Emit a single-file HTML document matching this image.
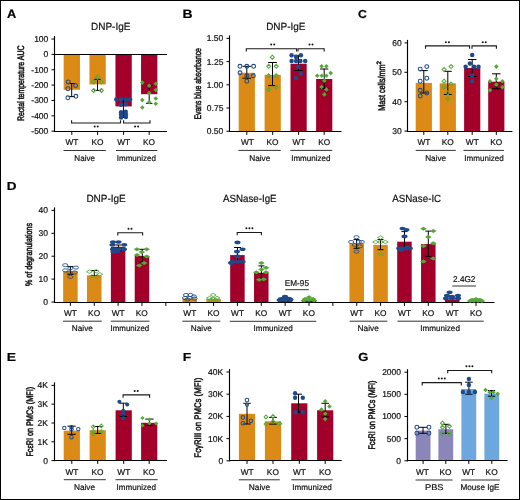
<!DOCTYPE html>
<html><head><meta charset="utf-8"><style>
html,body{margin:0;padding:0;background:#fff;width:520px;height:500px;overflow:hidden;}
svg{display:block;font-family:"Liberation Sans", sans-serif;text-rendering:geometricPrecision;will-change:transform;}
text{stroke:#111;stroke-width:0.2px;}
text.r{stroke-width:0.5px;}
text.b{stroke:none;}
</style></head><body>
<svg width="520" height="500" viewBox="0 0 520 500" fill="#111">
<rect x="0" y="0" width="520" height="500" fill="#fff"/>
<text x="7.08" y="17.80" font-size="12.21" textLength="9.26" lengthAdjust="spacingAndGlyphs" font-weight="bold" fill="#000">A</text>
<text x="90.98" y="29.90" font-size="10.4" textLength="39.45" lengthAdjust="spacingAndGlyphs">DNP-IgE</text>
<line x1="54.50" y1="36.05" x2="54.50" y2="131.75" stroke="#000" stroke-width="1.15"/>
<line x1="51.50" y1="39.05" x2="54.50" y2="39.05" stroke="#000" stroke-width="1.0"/>
<text x="34.15" y="41.96" font-size="8.5">100</text>
<line x1="51.50" y1="54.40" x2="54.50" y2="54.40" stroke="#000" stroke-width="1.0"/>
<text x="43.61" y="57.31" font-size="8.5">0</text>
<line x1="51.50" y1="69.75" x2="54.50" y2="69.75" stroke="#000" stroke-width="1.0"/>
<text x="31.32" y="72.66" font-size="8.5">-100</text>
<line x1="51.50" y1="85.10" x2="54.50" y2="85.10" stroke="#000" stroke-width="1.0"/>
<text x="31.32" y="88.01" font-size="8.5">-200</text>
<line x1="51.50" y1="100.45" x2="54.50" y2="100.45" stroke="#000" stroke-width="1.0"/>
<text x="31.32" y="103.36" font-size="8.5">-300</text>
<line x1="51.50" y1="115.80" x2="54.50" y2="115.80" stroke="#000" stroke-width="1.0"/>
<text x="31.32" y="118.71" font-size="8.5">-400</text>
<line x1="51.50" y1="131.15" x2="54.50" y2="131.15" stroke="#000" stroke-width="1.0"/>
<text x="31.32" y="134.06" font-size="8.5">-500</text>
<text class="r" transform="translate(23.90,120.50) rotate(-90)" x="-0.57" y="0" font-size="9.5" textLength="75.54" lengthAdjust="spacingAndGlyphs">Rectal temperature AUC</text>
<rect x="63.65" y="54.40" width="16.30" height="35.40" fill="#DB8A15"/>
<rect x="89.45" y="54.40" width="16.30" height="30.00" fill="#DB8A15"/>
<rect x="115.45" y="54.40" width="16.30" height="52.00" fill="#A2002A"/>
<rect x="141.05" y="54.40" width="16.30" height="39.80" fill="#A2002A"/>
<line x1="54.50" y1="54.50" x2="167.00" y2="54.50" stroke="#000" stroke-width="1.15"/>
<line x1="53.95" y1="131.50" x2="167.00" y2="131.50" stroke="#000" stroke-width="1.15"/>
<line x1="71.80" y1="131.50" x2="71.80" y2="134.90" stroke="#000" stroke-width="1.0"/>
<line x1="97.60" y1="131.50" x2="97.60" y2="134.90" stroke="#000" stroke-width="1.0"/>
<line x1="123.60" y1="131.50" x2="123.60" y2="134.90" stroke="#000" stroke-width="1.0"/>
<line x1="149.20" y1="131.50" x2="149.20" y2="134.90" stroke="#000" stroke-width="1.0"/>
<line x1="71.70" y1="83.50" x2="71.70" y2="96.60" stroke="#000" stroke-width="1.0"/>
<line x1="68.45" y1="83.50" x2="74.95" y2="83.50" stroke="#000" stroke-width="1.0"/>
<line x1="68.45" y1="96.60" x2="74.95" y2="96.60" stroke="#000" stroke-width="1.0"/>
<ellipse cx="68.20" cy="81.90" rx="1.95" ry="1.95" fill="none" stroke="#1F4A8A" stroke-width="1.05"/>
<ellipse cx="75.60" cy="85.60" rx="1.95" ry="1.95" fill="none" stroke="#1F4A8A" stroke-width="1.05"/>
<ellipse cx="67.90" cy="88.70" rx="1.95" ry="1.95" fill="none" stroke="#1F4A8A" stroke-width="1.05"/>
<ellipse cx="67.90" cy="97.80" rx="1.95" ry="1.95" fill="none" stroke="#1F4A8A" stroke-width="1.05"/>
<ellipse cx="75.90" cy="96.30" rx="1.95" ry="1.95" fill="none" stroke="#1F4A8A" stroke-width="1.05"/>
<line x1="97.50" y1="79.30" x2="97.50" y2="90.40" stroke="#000" stroke-width="1.0"/>
<line x1="94.25" y1="79.30" x2="100.75" y2="79.30" stroke="#000" stroke-width="1.0"/>
<line x1="94.25" y1="90.40" x2="100.75" y2="90.40" stroke="#000" stroke-width="1.0"/>
<path d="M97.50 75.20L99.50 77.20L97.50 79.20L95.50 77.20Z" fill="none" stroke="#55A838" stroke-width="1.05"/>
<path d="M93.60 80.00L95.60 82.00L93.60 84.00L91.60 82.00Z" fill="none" stroke="#55A838" stroke-width="1.05"/>
<path d="M101.40 80.00L103.40 82.00L101.40 84.00L99.40 82.00Z" fill="none" stroke="#55A838" stroke-width="1.05"/>
<path d="M93.60 88.40L95.60 90.40L93.60 92.40L91.60 90.40Z" fill="none" stroke="#55A838" stroke-width="1.05"/>
<path d="M101.40 88.40L103.40 90.40L101.40 92.40L99.40 90.40Z" fill="none" stroke="#55A838" stroke-width="1.05"/>
<line x1="123.40" y1="99.40" x2="123.40" y2="117.50" stroke="#000" stroke-width="1.0"/>
<line x1="120.15" y1="99.40" x2="126.65" y2="99.40" stroke="#000" stroke-width="1.0"/>
<line x1="120.15" y1="117.50" x2="126.65" y2="117.50" stroke="#000" stroke-width="1.0"/>
<ellipse cx="116.30" cy="99.40" rx="2.25" ry="2.25" fill="#1F4A8A"/>
<ellipse cx="121.10" cy="99.40" rx="2.25" ry="2.25" fill="#1F4A8A"/>
<ellipse cx="125.70" cy="99.40" rx="2.25" ry="2.25" fill="#1F4A8A"/>
<ellipse cx="130.10" cy="99.40" rx="2.25" ry="2.25" fill="#1F4A8A"/>
<ellipse cx="120.80" cy="104.80" rx="2.25" ry="2.25" fill="#1F4A8A"/>
<ellipse cx="125.80" cy="104.30" rx="2.25" ry="2.25" fill="#1F4A8A"/>
<ellipse cx="121.10" cy="112.20" rx="2.25" ry="2.25" fill="#1F4A8A"/>
<ellipse cx="125.70" cy="111.70" rx="2.25" ry="2.25" fill="#1F4A8A"/>
<ellipse cx="121.10" cy="117.60" rx="2.25" ry="2.25" fill="#1F4A8A"/>
<ellipse cx="125.90" cy="117.00" rx="2.25" ry="2.25" fill="#1F4A8A"/>
<ellipse cx="121.10" cy="114.60" rx="2.25" ry="2.25" fill="#1F4A8A"/>
<ellipse cx="125.80" cy="114.20" rx="2.25" ry="2.25" fill="#1F4A8A"/>
<line x1="149.20" y1="85.60" x2="149.20" y2="103.30" stroke="#000" stroke-width="1.0"/>
<line x1="145.95" y1="85.60" x2="152.45" y2="85.60" stroke="#000" stroke-width="1.0"/>
<line x1="145.95" y1="103.30" x2="152.45" y2="103.30" stroke="#000" stroke-width="1.0"/>
<path d="M142.30 80.30L144.60 82.60L142.30 84.90L140.00 82.60Z" fill="#55A838"/>
<path d="M149.20 83.50L151.50 85.80L149.20 88.10L146.90 85.80Z" fill="#55A838"/>
<path d="M155.80 81.40L158.10 83.70L155.80 86.00L153.50 83.70Z" fill="#55A838"/>
<path d="M155.80 87.70L158.10 90.00L155.80 92.30L153.50 90.00Z" fill="#55A838"/>
<path d="M149.20 90.70L151.50 93.00L149.20 95.30L146.90 93.00Z" fill="#55A838"/>
<path d="M142.30 97.80L144.60 100.10L142.30 102.40L140.00 100.10Z" fill="#55A838"/>
<path d="M155.80 96.20L158.10 98.50L155.80 100.80L153.50 98.50Z" fill="#55A838"/>
<path d="M149.20 99.90L151.50 102.20L149.20 104.50L146.90 102.20Z" fill="#55A838"/>
<path d="M155.80 101.50L158.10 103.80L155.80 106.10L153.50 103.80Z" fill="#55A838"/>
<path d="M142.30 105.20L144.60 107.50L142.30 109.80L140.00 107.50Z" fill="#55A838"/>
<path d="M71.60 120.20V123.00H120.50V120.20" fill="none" stroke="#1a1a1a" stroke-width="1.1"/>
<circle cx="94.70" cy="126.60" r="0.98" fill="#111"/>
<circle cx="97.70" cy="126.60" r="0.98" fill="#111"/>
<path d="M123.60 120.20V123.00H150.00V120.20" fill="none" stroke="#1a1a1a" stroke-width="1.1"/>
<circle cx="135.10" cy="126.60" r="0.98" fill="#111"/>
<circle cx="138.10" cy="126.60" r="0.98" fill="#111"/>
<text x="65.43" y="145.20" font-size="8.3">WT</text>
<text x="91.46" y="145.20" font-size="8.3">KO</text>
<text x="117.23" y="145.20" font-size="8.3">WT</text>
<text x="143.06" y="145.20" font-size="8.3">KO</text>
<line x1="63.50" y1="150.50" x2="105.80" y2="150.50" stroke="#333" stroke-width="1.0"/>
<text x="74.34" y="160.80" font-size="8.2" textLength="20.61" lengthAdjust="spacingAndGlyphs">Naive</text>
<line x1="116.00" y1="150.50" x2="157.30" y2="150.50" stroke="#333" stroke-width="1.0"/>
<text x="116.76" y="160.80" font-size="8.2" textLength="39.15" lengthAdjust="spacingAndGlyphs">Immunized</text>
<text x="182.57" y="17.90" font-size="12.06" textLength="10.06" lengthAdjust="spacingAndGlyphs" font-weight="bold" fill="#000">B</text>
<text x="266.18" y="30.40" font-size="10.4" textLength="39.25" lengthAdjust="spacingAndGlyphs">DNP-IgE</text>
<line x1="229.50" y1="35.40" x2="229.50" y2="131.80" stroke="#000" stroke-width="1.15"/>
<line x1="226.50" y1="38.40" x2="229.50" y2="38.40" stroke="#000" stroke-width="1.0"/>
<text x="206.79" y="41.31" font-size="8.5">1.50</text>
<line x1="226.50" y1="61.60" x2="229.50" y2="61.60" stroke="#000" stroke-width="1.0"/>
<text x="206.82" y="64.51" font-size="8.5">1.25</text>
<line x1="226.50" y1="84.80" x2="229.50" y2="84.80" stroke="#000" stroke-width="1.0"/>
<text x="206.79" y="87.71" font-size="8.5">1.00</text>
<line x1="226.50" y1="108.00" x2="229.50" y2="108.00" stroke="#000" stroke-width="1.0"/>
<text x="206.82" y="110.91" font-size="8.5">0.75</text>
<line x1="226.50" y1="131.20" x2="229.50" y2="131.20" stroke="#000" stroke-width="1.0"/>
<text x="206.79" y="134.11" font-size="8.5">0.50</text>
<text class="r" transform="translate(200.80,119.00) rotate(-90)" x="-0.56" y="0" font-size="9.5" textLength="71.46" lengthAdjust="spacingAndGlyphs">Evans blue absorbance</text>
<rect x="238.70" y="72.80" width="16.20" height="58.40" fill="#DB8A15"/>
<rect x="264.60" y="74.80" width="16.20" height="56.40" fill="#DB8A15"/>
<rect x="290.50" y="63.75" width="16.20" height="67.45" fill="#A2002A"/>
<rect x="316.10" y="79.00" width="16.20" height="52.20" fill="#A2002A"/>
<line x1="228.95" y1="131.50" x2="341.50" y2="131.50" stroke="#000" stroke-width="1.15"/>
<line x1="246.80" y1="131.50" x2="246.80" y2="134.90" stroke="#000" stroke-width="1.0"/>
<line x1="272.70" y1="131.50" x2="272.70" y2="134.90" stroke="#000" stroke-width="1.0"/>
<line x1="298.60" y1="131.50" x2="298.60" y2="134.90" stroke="#000" stroke-width="1.0"/>
<line x1="324.20" y1="131.50" x2="324.20" y2="134.90" stroke="#000" stroke-width="1.0"/>
<line x1="246.80" y1="66.30" x2="246.80" y2="78.20" stroke="#000" stroke-width="1.0"/>
<line x1="242.45" y1="66.30" x2="251.15" y2="66.30" stroke="#000" stroke-width="1.0"/>
<line x1="242.45" y1="78.20" x2="251.15" y2="78.20" stroke="#000" stroke-width="1.0"/>
<ellipse cx="240.00" cy="66.30" rx="1.95" ry="1.95" fill="none" stroke="#1F4A8A" stroke-width="1.05"/>
<ellipse cx="246.80" cy="66.30" rx="1.95" ry="1.95" fill="none" stroke="#1F4A8A" stroke-width="1.05"/>
<ellipse cx="253.60" cy="66.30" rx="1.95" ry="1.95" fill="none" stroke="#1F4A8A" stroke-width="1.05"/>
<ellipse cx="240.00" cy="72.80" rx="1.95" ry="1.95" fill="none" stroke="#1F4A8A" stroke-width="1.05"/>
<ellipse cx="246.80" cy="75.80" rx="1.95" ry="1.95" fill="none" stroke="#1F4A8A" stroke-width="1.05"/>
<ellipse cx="253.30" cy="75.80" rx="1.95" ry="1.95" fill="none" stroke="#1F4A8A" stroke-width="1.05"/>
<ellipse cx="246.80" cy="81.25" rx="1.95" ry="1.95" fill="none" stroke="#1F4A8A" stroke-width="1.05"/>
<line x1="272.50" y1="62.50" x2="272.50" y2="85.60" stroke="#000" stroke-width="1.0"/>
<line x1="268.15" y1="62.50" x2="276.85" y2="62.50" stroke="#000" stroke-width="1.0"/>
<line x1="268.15" y1="85.60" x2="276.85" y2="85.60" stroke="#000" stroke-width="1.0"/>
<path d="M272.30 55.20L274.30 57.20L272.30 59.20L270.30 57.20Z" fill="none" stroke="#55A838" stroke-width="1.05"/>
<path d="M268.70 64.30L270.70 66.30L268.70 68.30L266.70 66.30Z" fill="none" stroke="#55A838" stroke-width="1.05"/>
<path d="M276.20 64.30L278.20 66.30L276.20 68.30L274.20 66.30Z" fill="none" stroke="#55A838" stroke-width="1.05"/>
<path d="M268.70 73.80L270.70 75.80L268.70 77.80L266.70 75.80Z" fill="none" stroke="#55A838" stroke-width="1.05"/>
<path d="M276.20 73.80L278.20 75.80L276.20 77.80L274.20 75.80Z" fill="none" stroke="#55A838" stroke-width="1.05"/>
<path d="M276.20 85.00L278.20 87.00L276.20 89.00L274.20 87.00Z" fill="none" stroke="#55A838" stroke-width="1.05"/>
<path d="M268.70 87.40L270.70 89.40L268.70 91.40L266.70 89.40Z" fill="none" stroke="#55A838" stroke-width="1.05"/>
<line x1="298.50" y1="55.30" x2="298.50" y2="70.50" stroke="#000" stroke-width="1.0"/>
<line x1="294.20" y1="55.30" x2="302.80" y2="55.30" stroke="#000" stroke-width="1.0"/>
<line x1="294.20" y1="70.50" x2="302.80" y2="70.50" stroke="#000" stroke-width="1.0"/>
<ellipse cx="291.60" cy="55.30" rx="2.25" ry="2.25" fill="#1F4A8A"/>
<ellipse cx="296.10" cy="56.90" rx="2.25" ry="2.25" fill="#1F4A8A"/>
<ellipse cx="300.90" cy="55.30" rx="2.25" ry="2.25" fill="#1F4A8A"/>
<ellipse cx="291.60" cy="61.10" rx="2.25" ry="2.25" fill="#1F4A8A"/>
<ellipse cx="296.10" cy="61.10" rx="2.25" ry="2.25" fill="#1F4A8A"/>
<ellipse cx="300.40" cy="61.10" rx="2.25" ry="2.25" fill="#1F4A8A"/>
<ellipse cx="305.20" cy="61.10" rx="2.25" ry="2.25" fill="#1F4A8A"/>
<ellipse cx="298.30" cy="66.80" rx="2.25" ry="2.25" fill="#1F4A8A"/>
<ellipse cx="300.90" cy="73.80" rx="2.25" ry="2.25" fill="#1F4A8A"/>
<ellipse cx="296.10" cy="77.90" rx="2.25" ry="2.25" fill="#1F4A8A"/>
<line x1="324.20" y1="69.00" x2="324.20" y2="88.30" stroke="#000" stroke-width="1.0"/>
<line x1="320.10" y1="69.00" x2="328.30" y2="69.00" stroke="#000" stroke-width="1.0"/>
<line x1="320.10" y1="88.30" x2="328.30" y2="88.30" stroke="#000" stroke-width="1.0"/>
<path d="M321.60 64.00L323.90 66.30L321.60 68.60L319.30 66.30Z" fill="#55A838"/>
<path d="M326.40 64.00L328.70 66.30L326.40 68.60L324.10 66.30Z" fill="#55A838"/>
<path d="M330.70 70.80L333.00 73.10L330.70 75.40L328.40 73.10Z" fill="#55A838"/>
<path d="M317.25 73.50L319.55 75.80L317.25 78.10L314.95 75.80Z" fill="#55A838"/>
<path d="M321.80 73.50L324.10 75.80L321.80 78.10L319.50 75.80Z" fill="#55A838"/>
<path d="M326.40 73.50L328.70 75.80L326.40 78.10L324.10 75.80Z" fill="#55A838"/>
<path d="M324.30 78.50L326.60 80.80L324.30 83.10L322.00 80.80Z" fill="#55A838"/>
<path d="M321.60 84.70L323.90 87.00L321.60 89.30L319.30 87.00Z" fill="#55A838"/>
<path d="M326.40 87.10L328.70 89.40L326.40 91.70L324.10 89.40Z" fill="#55A838"/>
<path d="M324.30 92.10L326.60 94.40L324.30 96.70L322.00 94.40Z" fill="#55A838"/>
<path d="M246.30 51.50V48.70H296.60V51.50" fill="none" stroke="#1a1a1a" stroke-width="1.1"/>
<circle cx="271.20" cy="44.40" r="0.98" fill="#111"/>
<circle cx="274.20" cy="44.40" r="0.98" fill="#111"/>
<path d="M298.00 51.50V48.70H324.20V51.50" fill="none" stroke="#1a1a1a" stroke-width="1.1"/>
<circle cx="309.50" cy="44.40" r="0.98" fill="#111"/>
<circle cx="312.50" cy="44.40" r="0.98" fill="#111"/>
<text x="240.93" y="145.10" font-size="8.3">WT</text>
<text x="266.46" y="145.10" font-size="8.3">KO</text>
<text x="292.43" y="145.10" font-size="8.3">WT</text>
<text x="318.16" y="145.10" font-size="8.3">KO</text>
<line x1="238.40" y1="150.40" x2="280.80" y2="150.40" stroke="#333" stroke-width="1.0"/>
<text x="249.22" y="160.80" font-size="8.2" textLength="21.14" lengthAdjust="spacingAndGlyphs">Naive</text>
<line x1="290.30" y1="150.40" x2="332.30" y2="150.40" stroke="#333" stroke-width="1.0"/>
<text x="291.16" y="160.80" font-size="8.2" textLength="39.35" lengthAdjust="spacingAndGlyphs">Immunized</text>
<text x="358.00" y="17.90" font-size="11.63" textLength="8.83" lengthAdjust="spacingAndGlyphs" font-weight="bold" fill="#000">C</text>
<line x1="407.50" y1="39.90" x2="407.50" y2="131.70" stroke="#000" stroke-width="1.15"/>
<line x1="404.50" y1="42.90" x2="407.50" y2="42.90" stroke="#000" stroke-width="1.0"/>
<text x="392.28" y="45.81" font-size="8.5">60</text>
<line x1="404.50" y1="72.30" x2="407.50" y2="72.30" stroke="#000" stroke-width="1.0"/>
<text x="392.28" y="75.21" font-size="8.5">50</text>
<line x1="404.50" y1="101.70" x2="407.50" y2="101.70" stroke="#000" stroke-width="1.0"/>
<text x="392.28" y="104.61" font-size="8.5">40</text>
<line x1="404.50" y1="131.10" x2="407.50" y2="131.10" stroke="#000" stroke-width="1.0"/>
<text x="392.28" y="134.01" font-size="8.5">30</text>
<text class="r" transform="translate(384.60,110.20) rotate(-90)" x="-0.59" y="0" font-size="9.8" textLength="46.27" lengthAdjust="spacingAndGlyphs">Mast cells/mm</text>
<text class="r" transform="translate(381.3,64.5) rotate(-90)" x="0" y="0" font-size="6.2">2</text>
<rect x="415.70" y="82.90" width="16.20" height="48.20" fill="#DB8A15"/>
<rect x="439.70" y="83.30" width="16.20" height="47.80" fill="#DB8A15"/>
<rect x="464.10" y="68.00" width="16.20" height="63.10" fill="#A2002A"/>
<rect x="488.20" y="81.70" width="16.20" height="49.40" fill="#A2002A"/>
<line x1="406.95" y1="131.50" x2="512.40" y2="131.50" stroke="#000" stroke-width="1.15"/>
<line x1="423.80" y1="131.50" x2="423.80" y2="134.90" stroke="#000" stroke-width="1.0"/>
<line x1="447.80" y1="131.50" x2="447.80" y2="134.90" stroke="#000" stroke-width="1.0"/>
<line x1="472.20" y1="131.50" x2="472.20" y2="134.90" stroke="#000" stroke-width="1.0"/>
<line x1="496.30" y1="131.50" x2="496.30" y2="134.90" stroke="#000" stroke-width="1.0"/>
<line x1="423.80" y1="70.60" x2="423.80" y2="93.00" stroke="#000" stroke-width="1.0"/>
<line x1="419.80" y1="70.60" x2="427.80" y2="70.60" stroke="#000" stroke-width="1.0"/>
<line x1="419.80" y1="93.00" x2="427.80" y2="93.00" stroke="#000" stroke-width="1.0"/>
<ellipse cx="420.20" cy="69.10" rx="1.95" ry="1.95" fill="none" stroke="#1F4A8A" stroke-width="1.05"/>
<ellipse cx="426.80" cy="66.60" rx="1.95" ry="1.95" fill="none" stroke="#1F4A8A" stroke-width="1.05"/>
<ellipse cx="420.20" cy="81.20" rx="1.95" ry="1.95" fill="none" stroke="#1F4A8A" stroke-width="1.05"/>
<ellipse cx="426.80" cy="78.20" rx="1.95" ry="1.95" fill="none" stroke="#1F4A8A" stroke-width="1.05"/>
<ellipse cx="420.20" cy="90.30" rx="1.95" ry="1.95" fill="none" stroke="#1F4A8A" stroke-width="1.05"/>
<ellipse cx="426.80" cy="93.00" rx="1.95" ry="1.95" fill="none" stroke="#1F4A8A" stroke-width="1.05"/>
<ellipse cx="420.20" cy="96.00" rx="1.95" ry="1.95" fill="none" stroke="#1F4A8A" stroke-width="1.05"/>
<line x1="447.80" y1="71.30" x2="447.80" y2="94.50" stroke="#000" stroke-width="1.0"/>
<line x1="443.80" y1="71.30" x2="451.80" y2="71.30" stroke="#000" stroke-width="1.0"/>
<line x1="443.80" y1="94.50" x2="451.80" y2="94.50" stroke="#000" stroke-width="1.0"/>
<path d="M444.10 67.60L446.10 69.60L444.10 71.60L442.10 69.60Z" fill="none" stroke="#55A838" stroke-width="1.05"/>
<path d="M451.10 64.60L453.10 66.60L451.10 68.60L449.10 66.60Z" fill="none" stroke="#55A838" stroke-width="1.05"/>
<path d="M444.10 79.20L446.10 81.20L444.10 83.20L442.10 81.20Z" fill="none" stroke="#55A838" stroke-width="1.05"/>
<path d="M451.10 82.00L453.10 84.00L451.10 86.00L449.10 84.00Z" fill="none" stroke="#55A838" stroke-width="1.05"/>
<path d="M444.10 85.10L446.10 87.10L444.10 89.10L442.10 87.10Z" fill="none" stroke="#55A838" stroke-width="1.05"/>
<path d="M447.80 91.00L449.80 93.00L447.80 95.00L445.80 93.00Z" fill="none" stroke="#55A838" stroke-width="1.05"/>
<path d="M447.80 96.80L449.80 98.80L447.80 100.80L445.80 98.80Z" fill="none" stroke="#55A838" stroke-width="1.05"/>
<line x1="472.20" y1="59.50" x2="472.20" y2="76.50" stroke="#000" stroke-width="1.0"/>
<line x1="468.00" y1="59.50" x2="476.40" y2="59.50" stroke="#000" stroke-width="1.0"/>
<line x1="468.00" y1="76.50" x2="476.40" y2="76.50" stroke="#000" stroke-width="1.0"/>
<ellipse cx="472.20" cy="55.00" rx="2.25" ry="2.25" fill="#1F4A8A"/>
<ellipse cx="469.90" cy="63.60" rx="2.25" ry="2.25" fill="#1F4A8A"/>
<ellipse cx="465.65" cy="66.65" rx="2.25" ry="2.25" fill="#1F4A8A"/>
<ellipse cx="474.10" cy="66.65" rx="2.25" ry="2.25" fill="#1F4A8A"/>
<ellipse cx="478.50" cy="66.65" rx="2.25" ry="2.25" fill="#1F4A8A"/>
<ellipse cx="472.20" cy="75.50" rx="2.25" ry="2.25" fill="#1F4A8A"/>
<ellipse cx="472.20" cy="81.20" rx="2.25" ry="2.25" fill="#1F4A8A"/>
<line x1="496.30" y1="73.80" x2="496.30" y2="88.80" stroke="#000" stroke-width="1.0"/>
<line x1="492.05" y1="73.80" x2="500.55" y2="73.80" stroke="#000" stroke-width="1.0"/>
<line x1="492.05" y1="88.80" x2="500.55" y2="88.80" stroke="#000" stroke-width="1.0"/>
<path d="M496.30 64.30L498.60 66.60L496.30 68.90L494.00 66.60Z" fill="#55A838"/>
<path d="M490.00 78.90L492.30 81.20L490.00 83.50L487.70 81.20Z" fill="#55A838"/>
<path d="M502.40 78.90L504.70 81.20L502.40 83.50L500.10 81.20Z" fill="#55A838"/>
<path d="M496.30 76.40L498.60 78.70L496.30 81.00L494.00 78.70Z" fill="#55A838"/>
<path d="M496.30 82.30L498.60 84.60L496.30 86.90L494.00 84.60Z" fill="#55A838"/>
<path d="M490.00 88.00L492.30 90.30L490.00 92.60L487.70 90.30Z" fill="#55A838"/>
<path d="M502.40 84.80L504.70 87.10L502.40 89.40L500.10 87.10Z" fill="#55A838"/>
<path d="M425.50 48.70V45.90H469.60V48.70" fill="none" stroke="#1a1a1a" stroke-width="1.1"/>
<circle cx="445.90" cy="42.20" r="0.98" fill="#111"/>
<circle cx="448.90" cy="42.20" r="0.98" fill="#111"/>
<path d="M472.00 48.70V45.90H496.40V48.70" fill="none" stroke="#1a1a1a" stroke-width="1.1"/>
<circle cx="482.80" cy="42.20" r="0.98" fill="#111"/>
<circle cx="485.80" cy="42.20" r="0.98" fill="#111"/>
<text x="417.43" y="145.10" font-size="8.3">WT</text>
<text x="441.66" y="145.10" font-size="8.3">KO</text>
<text x="465.83" y="145.10" font-size="8.3">WT</text>
<text x="490.16" y="145.10" font-size="8.3">KO</text>
<line x1="415.70" y1="150.40" x2="455.80" y2="150.40" stroke="#333" stroke-width="1.0"/>
<text x="425.13" y="160.80" font-size="8.2" textLength="20.93" lengthAdjust="spacingAndGlyphs">Naive</text>
<line x1="463.50" y1="150.40" x2="503.90" y2="150.40" stroke="#333" stroke-width="1.0"/>
<text x="464.36" y="160.80" font-size="8.2" textLength="39.35" lengthAdjust="spacingAndGlyphs">Immunized</text>
<text x="6.79" y="190.00" font-size="11.63" textLength="9.78" lengthAdjust="spacingAndGlyphs" font-weight="bold" fill="#000">D</text>
<line x1="54.50" y1="207.40" x2="54.50" y2="302.60" stroke="#000" stroke-width="1.15"/>
<line x1="51.50" y1="210.40" x2="54.50" y2="210.40" stroke="#000" stroke-width="1.0"/>
<text x="38.58" y="213.31" font-size="8.5">40</text>
<line x1="51.50" y1="233.30" x2="54.50" y2="233.30" stroke="#000" stroke-width="1.0"/>
<text x="38.58" y="236.21" font-size="8.5">30</text>
<line x1="51.50" y1="256.20" x2="54.50" y2="256.20" stroke="#000" stroke-width="1.0"/>
<text x="38.58" y="259.11" font-size="8.5">20</text>
<line x1="51.50" y1="279.10" x2="54.50" y2="279.10" stroke="#000" stroke-width="1.0"/>
<text x="38.58" y="282.01" font-size="8.5">10</text>
<line x1="51.50" y1="302.00" x2="54.50" y2="302.00" stroke="#000" stroke-width="1.0"/>
<text x="43.31" y="304.91" font-size="8.5">0</text>
<text class="r" transform="translate(32.40,285.80) rotate(-90)" x="-0.26" y="0" font-size="9.5" textLength="63.02" lengthAdjust="spacingAndGlyphs">% of degranulations</text>
<rect x="63.15" y="271.20" width="14.50" height="30.80" fill="#DB8A15"/>
<rect x="87.01" y="275.40" width="14.50" height="26.60" fill="#DB8A15"/>
<rect x="110.87" y="246.80" width="14.50" height="55.20" fill="#A2002A"/>
<rect x="134.73" y="255.90" width="14.50" height="46.10" fill="#A2002A"/>
<rect x="182.45" y="298.50" width="14.50" height="3.50" fill="#DB8A15"/>
<rect x="206.31" y="299.00" width="14.50" height="3.00" fill="#DB8A15"/>
<rect x="230.17" y="255.10" width="14.50" height="46.90" fill="#A2002A"/>
<rect x="254.03" y="272.80" width="14.50" height="29.20" fill="#A2002A"/>
<rect x="277.89" y="299.60" width="14.50" height="2.40" fill="#A2002A"/>
<rect x="301.75" y="300.30" width="14.50" height="1.70" fill="#A2002A"/>
<rect x="349.47" y="243.90" width="14.50" height="58.10" fill="#DB8A15"/>
<rect x="373.33" y="244.90" width="14.50" height="57.10" fill="#DB8A15"/>
<rect x="397.19" y="241.70" width="14.50" height="60.30" fill="#A2002A"/>
<rect x="421.05" y="244.10" width="14.50" height="57.90" fill="#A2002A"/>
<rect x="444.91" y="299.50" width="14.50" height="2.50" fill="#A2002A"/>
<rect x="468.77" y="300.80" width="14.50" height="1.20" fill="#A2002A"/>
<line x1="53.95" y1="302.50" x2="494.40" y2="302.50" stroke="#000" stroke-width="1.15"/>
<line x1="70.40" y1="302.50" x2="70.40" y2="305.90" stroke="#000" stroke-width="1.0"/>
<line x1="94.26" y1="302.50" x2="94.26" y2="305.90" stroke="#000" stroke-width="1.0"/>
<line x1="118.12" y1="302.50" x2="118.12" y2="305.90" stroke="#000" stroke-width="1.0"/>
<line x1="141.98" y1="302.50" x2="141.98" y2="305.90" stroke="#000" stroke-width="1.0"/>
<line x1="165.84" y1="302.50" x2="165.84" y2="305.90" stroke="#000" stroke-width="1.0"/>
<line x1="189.70" y1="302.50" x2="189.70" y2="305.90" stroke="#000" stroke-width="1.0"/>
<line x1="213.56" y1="302.50" x2="213.56" y2="305.90" stroke="#000" stroke-width="1.0"/>
<line x1="237.42" y1="302.50" x2="237.42" y2="305.90" stroke="#000" stroke-width="1.0"/>
<line x1="261.28" y1="302.50" x2="261.28" y2="305.90" stroke="#000" stroke-width="1.0"/>
<line x1="285.14" y1="302.50" x2="285.14" y2="305.90" stroke="#000" stroke-width="1.0"/>
<line x1="309.00" y1="302.50" x2="309.00" y2="305.90" stroke="#000" stroke-width="1.0"/>
<line x1="332.86" y1="302.50" x2="332.86" y2="305.90" stroke="#000" stroke-width="1.0"/>
<line x1="356.72" y1="302.50" x2="356.72" y2="305.90" stroke="#000" stroke-width="1.0"/>
<line x1="380.58" y1="302.50" x2="380.58" y2="305.90" stroke="#000" stroke-width="1.0"/>
<line x1="404.44" y1="302.50" x2="404.44" y2="305.90" stroke="#000" stroke-width="1.0"/>
<line x1="428.30" y1="302.50" x2="428.30" y2="305.90" stroke="#000" stroke-width="1.0"/>
<line x1="452.16" y1="302.50" x2="452.16" y2="305.90" stroke="#000" stroke-width="1.0"/>
<line x1="476.02" y1="302.50" x2="476.02" y2="305.90" stroke="#000" stroke-width="1.0"/>
<line x1="70.40" y1="266.50" x2="70.40" y2="274.30" stroke="#000" stroke-width="1.0"/>
<line x1="67.40" y1="266.50" x2="73.40" y2="266.50" stroke="#000" stroke-width="1.0"/>
<line x1="67.40" y1="274.30" x2="73.40" y2="274.30" stroke="#000" stroke-width="1.0"/>
<ellipse cx="65.20" cy="265.20" rx="2.61" ry="1.55" fill="none" stroke="#1F4A8A" stroke-width="0.85"/>
<ellipse cx="76.00" cy="267.60" rx="2.61" ry="1.55" fill="none" stroke="#1F4A8A" stroke-width="0.85"/>
<ellipse cx="65.20" cy="270.40" rx="2.61" ry="1.55" fill="none" stroke="#1F4A8A" stroke-width="0.85"/>
<ellipse cx="70.40" cy="268.20" rx="2.61" ry="1.55" fill="none" stroke="#1F4A8A" stroke-width="0.85"/>
<ellipse cx="74.70" cy="272.50" rx="2.61" ry="1.55" fill="none" stroke="#1F4A8A" stroke-width="0.85"/>
<ellipse cx="70.40" cy="276.90" rx="2.61" ry="1.55" fill="none" stroke="#1F4A8A" stroke-width="0.85"/>
<ellipse cx="69.50" cy="272.50" rx="2.61" ry="1.55" fill="none" stroke="#1F4A8A" stroke-width="0.85"/>
<line x1="94.30" y1="270.50" x2="94.30" y2="275.50" stroke="#000" stroke-width="1.0"/>
<line x1="91.30" y1="270.50" x2="97.30" y2="270.50" stroke="#000" stroke-width="1.0"/>
<line x1="91.30" y1="275.50" x2="97.30" y2="275.50" stroke="#000" stroke-width="1.0"/>
<path d="M89.40 269.98L92.30 271.70L89.40 273.42L86.50 271.70Z" fill="none" stroke="#55A838" stroke-width="0.85"/>
<path d="M96.30 269.48L99.20 271.20L96.30 272.92L93.40 271.20Z" fill="none" stroke="#55A838" stroke-width="0.85"/>
<path d="M99.80 272.58L102.70 274.30L99.80 276.02L96.90 274.30Z" fill="none" stroke="#55A838" stroke-width="0.85"/>
<path d="M92.00 274.78L94.90 276.50L92.00 278.22L89.10 276.50Z" fill="none" stroke="#55A838" stroke-width="0.85"/>
<path d="M97.20 274.68L100.10 276.40L97.20 278.12L94.30 276.40Z" fill="none" stroke="#55A838" stroke-width="0.85"/>
<line x1="118.40" y1="245.00" x2="118.40" y2="251.00" stroke="#000" stroke-width="1.0"/>
<line x1="115.40" y1="245.00" x2="121.40" y2="245.00" stroke="#000" stroke-width="1.0"/>
<line x1="115.40" y1="251.00" x2="121.40" y2="251.00" stroke="#000" stroke-width="1.0"/>
<ellipse cx="113.00" cy="242.00" rx="3.04" ry="1.81" fill="#1F4A8A"/>
<ellipse cx="118.50" cy="242.00" rx="3.04" ry="1.81" fill="#1F4A8A"/>
<ellipse cx="112.50" cy="244.80" rx="3.04" ry="1.81" fill="#1F4A8A"/>
<ellipse cx="124.30" cy="244.80" rx="3.04" ry="1.81" fill="#1F4A8A"/>
<ellipse cx="113.00" cy="249.20" rx="3.04" ry="1.81" fill="#1F4A8A"/>
<ellipse cx="118.50" cy="249.20" rx="3.04" ry="1.81" fill="#1F4A8A"/>
<ellipse cx="124.00" cy="249.20" rx="3.04" ry="1.81" fill="#1F4A8A"/>
<ellipse cx="113.50" cy="251.80" rx="3.04" ry="1.81" fill="#1F4A8A"/>
<ellipse cx="117.50" cy="251.50" rx="3.04" ry="1.81" fill="#1F4A8A"/>
<line x1="142.30" y1="249.30" x2="142.30" y2="262.10" stroke="#000" stroke-width="1.0"/>
<line x1="139.30" y1="249.30" x2="145.30" y2="249.30" stroke="#000" stroke-width="1.0"/>
<line x1="139.30" y1="262.10" x2="145.30" y2="262.10" stroke="#000" stroke-width="1.0"/>
<path d="M137.00 247.32L140.34 249.30L137.00 251.28L133.66 249.30Z" fill="#55A838"/>
<path d="M146.70 247.32L150.03 249.30L146.70 251.28L143.36 249.30Z" fill="#55A838"/>
<path d="M141.80 249.92L145.14 251.90L141.80 253.88L138.47 251.90Z" fill="#55A838"/>
<path d="M137.00 253.02L140.34 255.00L137.00 256.98L133.66 255.00Z" fill="#55A838"/>
<path d="M146.70 254.42L150.03 256.40L146.70 258.38L143.36 256.40Z" fill="#55A838"/>
<path d="M144.10 261.02L147.44 263.00L144.10 264.98L140.76 263.00Z" fill="#55A838"/>
<path d="M139.20 263.62L142.53 265.60L139.20 267.58L135.86 265.60Z" fill="#55A838"/>
<ellipse cx="186.00" cy="295.00" rx="2.61" ry="1.55" fill="none" stroke="#1F4A8A" stroke-width="0.85"/>
<ellipse cx="190.50" cy="295.00" rx="2.61" ry="1.55" fill="none" stroke="#1F4A8A" stroke-width="0.85"/>
<ellipse cx="194.00" cy="296.50" rx="2.61" ry="1.55" fill="none" stroke="#1F4A8A" stroke-width="0.85"/>
<ellipse cx="185.00" cy="298.00" rx="2.61" ry="1.55" fill="none" stroke="#1F4A8A" stroke-width="0.85"/>
<ellipse cx="189.70" cy="298.00" rx="2.61" ry="1.55" fill="none" stroke="#1F4A8A" stroke-width="0.85"/>
<ellipse cx="194.50" cy="298.50" rx="2.61" ry="1.55" fill="none" stroke="#1F4A8A" stroke-width="0.85"/>
<ellipse cx="187.50" cy="299.50" rx="2.61" ry="1.55" fill="none" stroke="#1F4A8A" stroke-width="0.85"/>
<path d="M213.20 293.28L216.10 295.00L213.20 296.72L210.30 295.00Z" fill="none" stroke="#55A838" stroke-width="0.85"/>
<path d="M209.50 296.28L212.40 298.00L209.50 299.72L206.60 298.00Z" fill="none" stroke="#55A838" stroke-width="0.85"/>
<path d="M217.00 296.28L219.90 298.00L217.00 299.72L214.10 298.00Z" fill="none" stroke="#55A838" stroke-width="0.85"/>
<path d="M211.00 298.28L213.90 300.00L211.00 301.72L208.10 300.00Z" fill="none" stroke="#55A838" stroke-width="0.85"/>
<path d="M216.00 298.28L218.90 300.00L216.00 301.72L213.10 300.00Z" fill="none" stroke="#55A838" stroke-width="0.85"/>
<path d="M213.20 297.28L216.10 299.00L213.20 300.72L210.30 299.00Z" fill="none" stroke="#55A838" stroke-width="0.85"/>
<line x1="237.50" y1="247.50" x2="237.50" y2="262.00" stroke="#000" stroke-width="1.0"/>
<line x1="234.00" y1="247.50" x2="241.00" y2="247.50" stroke="#000" stroke-width="1.0"/>
<line x1="234.00" y1="262.00" x2="241.00" y2="262.00" stroke="#000" stroke-width="1.0"/>
<ellipse cx="237.50" cy="242.40" rx="3.04" ry="1.81" fill="#1F4A8A"/>
<ellipse cx="242.60" cy="249.30" rx="3.04" ry="1.81" fill="#1F4A8A"/>
<ellipse cx="237.00" cy="251.60" rx="3.04" ry="1.81" fill="#1F4A8A"/>
<ellipse cx="237.50" cy="256.40" rx="3.04" ry="1.81" fill="#1F4A8A"/>
<ellipse cx="232.40" cy="261.80" rx="3.04" ry="1.81" fill="#1F4A8A"/>
<ellipse cx="237.50" cy="261.80" rx="3.04" ry="1.81" fill="#1F4A8A"/>
<ellipse cx="242.60" cy="261.80" rx="3.04" ry="1.81" fill="#1F4A8A"/>
<ellipse cx="231.10" cy="262.90" rx="3.04" ry="1.81" fill="#1F4A8A"/>
<line x1="261.40" y1="265.90" x2="261.40" y2="278.30" stroke="#000" stroke-width="1.0"/>
<line x1="258.40" y1="265.90" x2="264.40" y2="265.90" stroke="#000" stroke-width="1.0"/>
<line x1="258.40" y1="278.30" x2="264.40" y2="278.30" stroke="#000" stroke-width="1.0"/>
<path d="M261.40 260.92L264.73 262.90L261.40 264.88L258.06 262.90Z" fill="#55A838"/>
<path d="M266.00 265.72L269.33 267.70L266.00 269.68L262.67 267.70Z" fill="#55A838"/>
<path d="M261.40 267.62L264.73 269.60L261.40 271.58L258.06 269.60Z" fill="#55A838"/>
<path d="M256.40 270.32L259.73 272.30L256.40 274.28L253.06 272.30Z" fill="#55A838"/>
<path d="M266.00 270.32L269.33 272.30L266.00 274.28L262.67 272.30Z" fill="#55A838"/>
<path d="M259.10 277.72L262.44 279.70L259.10 281.68L255.77 279.70Z" fill="#55A838"/>
<path d="M263.70 277.22L267.03 279.20L263.70 281.18L260.37 279.20Z" fill="#55A838"/>
<ellipse cx="281.00" cy="298.80" rx="3.04" ry="1.81" fill="#1F4A8A"/>
<ellipse cx="285.00" cy="296.50" rx="3.04" ry="1.81" fill="#1F4A8A"/>
<ellipse cx="284.00" cy="298.50" rx="3.04" ry="1.81" fill="#1F4A8A"/>
<ellipse cx="289.00" cy="298.50" rx="3.04" ry="1.81" fill="#1F4A8A"/>
<ellipse cx="290.50" cy="299.60" rx="3.04" ry="1.81" fill="#1F4A8A"/>
<ellipse cx="279.60" cy="300.00" rx="3.04" ry="1.81" fill="#1F4A8A"/>
<ellipse cx="285.00" cy="300.00" rx="3.04" ry="1.81" fill="#1F4A8A"/>
<path d="M309.00 295.22L312.33 297.20L309.00 299.18L305.67 297.20Z" fill="#55A838"/>
<path d="M305.00 297.02L308.33 299.00L305.00 300.98L301.67 299.00Z" fill="#55A838"/>
<path d="M313.00 297.02L316.33 299.00L313.00 300.98L309.67 299.00Z" fill="#55A838"/>
<path d="M304.00 298.52L307.33 300.50L304.00 302.48L300.67 300.50Z" fill="#55A838"/>
<path d="M309.00 298.02L312.33 300.00L309.00 301.98L305.67 300.00Z" fill="#55A838"/>
<path d="M314.00 298.52L317.33 300.50L314.00 302.48L310.67 300.50Z" fill="#55A838"/>
<text x="284.83" y="285.70" font-size="8.5" textLength="24.12" lengthAdjust="spacingAndGlyphs">EM-95</text>
<line x1="285.30" y1="289.70" x2="308.80" y2="289.70" stroke="#333" stroke-width="1.0"/>
<line x1="356.50" y1="239.60" x2="356.50" y2="248.30" stroke="#000" stroke-width="1.0"/>
<line x1="353.50" y1="239.60" x2="359.50" y2="239.60" stroke="#000" stroke-width="1.0"/>
<line x1="353.50" y1="248.30" x2="359.50" y2="248.30" stroke="#000" stroke-width="1.0"/>
<ellipse cx="356.50" cy="237.20" rx="2.61" ry="1.55" fill="none" stroke="#1F4A8A" stroke-width="0.85"/>
<ellipse cx="351.20" cy="242.00" rx="2.61" ry="1.55" fill="none" stroke="#1F4A8A" stroke-width="0.85"/>
<ellipse cx="361.80" cy="242.00" rx="2.61" ry="1.55" fill="none" stroke="#1F4A8A" stroke-width="0.85"/>
<ellipse cx="358.90" cy="242.00" rx="2.61" ry="1.55" fill="none" stroke="#1F4A8A" stroke-width="0.85"/>
<ellipse cx="355.00" cy="244.90" rx="2.61" ry="1.55" fill="none" stroke="#1F4A8A" stroke-width="0.85"/>
<ellipse cx="359.90" cy="246.30" rx="2.61" ry="1.55" fill="none" stroke="#1F4A8A" stroke-width="0.85"/>
<ellipse cx="356.50" cy="251.60" rx="2.61" ry="1.55" fill="none" stroke="#1F4A8A" stroke-width="0.85"/>
<line x1="380.50" y1="239.60" x2="380.50" y2="249.70" stroke="#000" stroke-width="1.0"/>
<line x1="377.50" y1="239.60" x2="383.50" y2="239.60" stroke="#000" stroke-width="1.0"/>
<line x1="377.50" y1="249.70" x2="383.50" y2="249.70" stroke="#000" stroke-width="1.0"/>
<path d="M380.50 235.78L383.40 237.50L380.50 239.22L377.60 237.50Z" fill="none" stroke="#55A838" stroke-width="0.85"/>
<path d="M375.70 240.28L378.60 242.00L375.70 243.72L372.80 242.00Z" fill="none" stroke="#55A838" stroke-width="0.85"/>
<path d="M385.30 240.28L388.20 242.00L385.30 243.72L382.40 242.00Z" fill="none" stroke="#55A838" stroke-width="0.85"/>
<path d="M380.50 240.28L383.40 242.00L380.50 243.72L377.60 242.00Z" fill="none" stroke="#55A838" stroke-width="0.85"/>
<path d="M380.50 252.28L383.40 254.00L380.50 255.72L377.60 254.00Z" fill="none" stroke="#55A838" stroke-width="0.85"/>
<line x1="404.50" y1="231.60" x2="404.50" y2="248.40" stroke="#000" stroke-width="1.0"/>
<line x1="401.50" y1="231.60" x2="407.50" y2="231.60" stroke="#000" stroke-width="1.0"/>
<line x1="401.50" y1="248.40" x2="407.50" y2="248.40" stroke="#000" stroke-width="1.0"/>
<ellipse cx="402.60" cy="228.50" rx="3.04" ry="1.81" fill="#1F4A8A"/>
<ellipse cx="406.40" cy="229.70" rx="3.04" ry="1.81" fill="#1F4A8A"/>
<ellipse cx="404.50" cy="236.40" rx="3.04" ry="1.81" fill="#1F4A8A"/>
<ellipse cx="399.20" cy="248.40" rx="3.04" ry="1.81" fill="#1F4A8A"/>
<ellipse cx="402.60" cy="248.40" rx="3.04" ry="1.81" fill="#1F4A8A"/>
<ellipse cx="406.40" cy="248.40" rx="3.04" ry="1.81" fill="#1F4A8A"/>
<ellipse cx="409.80" cy="248.40" rx="3.04" ry="1.81" fill="#1F4A8A"/>
<ellipse cx="401.10" cy="249.90" rx="3.04" ry="1.81" fill="#1F4A8A"/>
<ellipse cx="407.40" cy="247.50" rx="3.04" ry="1.81" fill="#1F4A8A"/>
<line x1="428.30" y1="231.10" x2="428.30" y2="256.40" stroke="#000" stroke-width="1.0"/>
<line x1="425.30" y1="231.10" x2="431.30" y2="231.10" stroke="#000" stroke-width="1.0"/>
<line x1="425.30" y1="256.40" x2="431.30" y2="256.40" stroke="#000" stroke-width="1.0"/>
<path d="M423.50 226.72L426.83 228.70L423.50 230.68L420.17 228.70Z" fill="#55A838"/>
<path d="M433.30 229.12L436.63 231.10L433.30 233.08L429.97 231.10Z" fill="#55A838"/>
<path d="M428.30 234.92L431.63 236.90L428.30 238.88L424.97 236.90Z" fill="#55A838"/>
<path d="M433.30 241.32L436.63 243.30L433.30 245.28L429.97 243.30Z" fill="#55A838"/>
<path d="M423.50 244.02L426.83 246.00L423.50 247.98L420.17 246.00Z" fill="#55A838"/>
<path d="M433.20 256.52L436.53 258.50L433.20 260.48L429.87 258.50Z" fill="#55A838"/>
<path d="M423.50 259.62L426.83 261.60L423.50 263.58L420.17 261.60Z" fill="#55A838"/>
<ellipse cx="449.60" cy="292.20" rx="3.04" ry="1.81" fill="#1F4A8A"/>
<ellipse cx="447.00" cy="295.50" rx="3.04" ry="1.81" fill="#1F4A8A"/>
<ellipse cx="458.00" cy="295.50" rx="3.04" ry="1.81" fill="#1F4A8A"/>
<ellipse cx="446.00" cy="298.40" rx="3.04" ry="1.81" fill="#1F4A8A"/>
<ellipse cx="452.00" cy="298.40" rx="3.04" ry="1.81" fill="#1F4A8A"/>
<ellipse cx="458.00" cy="298.40" rx="3.04" ry="1.81" fill="#1F4A8A"/>
<ellipse cx="452.00" cy="296.50" rx="3.04" ry="1.81" fill="#1F4A8A"/>
<path d="M472.00 297.82L475.33 299.80L472.00 301.78L468.67 299.80Z" fill="#55A838"/>
<path d="M476.00 297.02L479.33 299.00L476.00 300.98L472.67 299.00Z" fill="#55A838"/>
<path d="M480.00 297.82L483.33 299.80L480.00 301.78L476.67 299.80Z" fill="#55A838"/>
<path d="M474.00 298.82L477.33 300.80L474.00 302.78L470.67 300.80Z" fill="#55A838"/>
<path d="M478.00 298.82L481.33 300.80L478.00 302.78L474.67 300.80Z" fill="#55A838"/>
<path d="M470.00 299.02L473.33 301.00L470.00 302.98L466.67 301.00Z" fill="#55A838"/>
<path d="M482.00 299.02L485.33 301.00L482.00 302.98L478.67 301.00Z" fill="#55A838"/>
<text x="453.09" y="281.90" font-size="8.5" textLength="22.32" lengthAdjust="spacingAndGlyphs">2.4G2</text>
<line x1="452.30" y1="286.00" x2="476.00" y2="286.00" stroke="#333" stroke-width="1.0"/>
<text x="86.43" y="201.70" font-size="10.4" textLength="39.35" lengthAdjust="spacingAndGlyphs">DNP-IgE</text>
<text x="223.08" y="201.50" font-size="10.4" textLength="53.54" lengthAdjust="spacingAndGlyphs">ASNase-IgE</text>
<text x="392.28" y="201.50" font-size="10.4" textLength="48.90" lengthAdjust="spacingAndGlyphs">ASNase-IC</text>
<path d="M117.80 235.50V232.70H142.60V235.50" fill="none" stroke="#1a1a1a" stroke-width="1.1"/>
<circle cx="128.50" cy="228.80" r="0.98" fill="#111"/>
<circle cx="131.50" cy="228.80" r="0.98" fill="#111"/>
<path d="M237.20 235.30V232.50H261.40V235.30" fill="none" stroke="#1a1a1a" stroke-width="1.1"/>
<circle cx="246.40" cy="228.30" r="0.98" fill="#111"/>
<circle cx="249.40" cy="228.30" r="0.98" fill="#111"/>
<circle cx="252.40" cy="228.30" r="0.98" fill="#111"/>
<text x="64.03" y="315.75" font-size="8.3">WT</text>
<text x="88.12" y="315.75" font-size="8.3">KO</text>
<text x="111.75" y="315.75" font-size="8.3">WT</text>
<text x="135.84" y="315.75" font-size="8.3">KO</text>
<text x="183.33" y="315.75" font-size="8.3">WT</text>
<text x="207.42" y="315.75" font-size="8.3">KO</text>
<text x="231.05" y="315.75" font-size="8.3">WT</text>
<text x="255.14" y="315.75" font-size="8.3">KO</text>
<text x="278.77" y="315.75" font-size="8.3">WT</text>
<text x="302.86" y="315.75" font-size="8.3">KO</text>
<text x="350.35" y="315.75" font-size="8.3">WT</text>
<text x="374.44" y="315.75" font-size="8.3">KO</text>
<text x="398.07" y="315.75" font-size="8.3">WT</text>
<text x="422.16" y="315.75" font-size="8.3">KO</text>
<text x="445.79" y="315.75" font-size="8.3">WT</text>
<text x="469.88" y="315.75" font-size="8.3">KO</text>
<line x1="63.00" y1="321.20" x2="101.75" y2="321.20" stroke="#333" stroke-width="1.0"/>
<text x="71.83" y="331.25" font-size="8.2" textLength="21.03" lengthAdjust="spacingAndGlyphs">Naive</text>
<line x1="110.75" y1="321.20" x2="149.50" y2="321.20" stroke="#333" stroke-width="1.0"/>
<text x="110.52" y="331.25" font-size="8.2" textLength="38.73" lengthAdjust="spacingAndGlyphs">Immunized</text>
<line x1="182.30" y1="321.20" x2="220.40" y2="321.20" stroke="#333" stroke-width="1.0"/>
<text x="190.83" y="331.25" font-size="8.2" textLength="21.03" lengthAdjust="spacingAndGlyphs">Naive</text>
<line x1="229.80" y1="321.30" x2="316.30" y2="321.30" stroke="#333" stroke-width="1.0"/>
<text x="253.46" y="331.25" font-size="8.2" textLength="39.35" lengthAdjust="spacingAndGlyphs">Immunized</text>
<line x1="349.70" y1="321.20" x2="387.40" y2="321.20" stroke="#333" stroke-width="1.0"/>
<text x="357.62" y="331.25" font-size="8.2" textLength="21.24" lengthAdjust="spacingAndGlyphs">Naive</text>
<line x1="397.50" y1="321.20" x2="483.70" y2="321.20" stroke="#333" stroke-width="1.0"/>
<text x="420.15" y="331.25" font-size="8.2" textLength="39.77" lengthAdjust="spacingAndGlyphs">Immunized</text>
<text x="6.77" y="360.80" font-size="11.63" textLength="9.27" lengthAdjust="spacingAndGlyphs" font-weight="bold" fill="#000">E</text>
<line x1="54.50" y1="382.40" x2="54.50" y2="461.20" stroke="#000" stroke-width="1.15"/>
<line x1="51.50" y1="385.40" x2="54.50" y2="385.40" stroke="#000" stroke-width="1.0"/>
<text x="37.41" y="388.31" font-size="8.5">4K</text>
<line x1="51.50" y1="404.20" x2="54.50" y2="404.20" stroke="#000" stroke-width="1.0"/>
<text x="37.41" y="407.11" font-size="8.5">3K</text>
<line x1="51.50" y1="423.00" x2="54.50" y2="423.00" stroke="#000" stroke-width="1.0"/>
<text x="37.41" y="425.91" font-size="8.5">2K</text>
<line x1="51.50" y1="441.80" x2="54.50" y2="441.80" stroke="#000" stroke-width="1.0"/>
<text x="37.41" y="444.71" font-size="8.5">1K</text>
<line x1="51.50" y1="460.60" x2="54.50" y2="460.60" stroke="#000" stroke-width="1.0"/>
<text x="43.31" y="463.51" font-size="8.5">0</text>
<text class="r" transform="translate(32.50,456.00) rotate(-90)" x="-0.59" y="0" font-size="9.5" textLength="69.65" lengthAdjust="spacingAndGlyphs">FcεRI on PMCs (MFI)</text>
<rect x="63.70" y="430.70" width="16.20" height="29.90" fill="#DB8A15"/>
<rect x="89.60" y="430.20" width="16.20" height="30.40" fill="#DB8A15"/>
<rect x="115.60" y="410.30" width="16.20" height="50.30" fill="#A2002A"/>
<rect x="141.10" y="422.80" width="16.20" height="37.80" fill="#A2002A"/>
<line x1="53.95" y1="460.50" x2="167.00" y2="460.50" stroke="#000" stroke-width="1.15"/>
<line x1="71.80" y1="460.50" x2="71.80" y2="463.90" stroke="#000" stroke-width="1.0"/>
<line x1="97.70" y1="460.50" x2="97.70" y2="463.90" stroke="#000" stroke-width="1.0"/>
<line x1="123.70" y1="460.50" x2="123.70" y2="463.90" stroke="#000" stroke-width="1.0"/>
<line x1="149.20" y1="460.50" x2="149.20" y2="463.90" stroke="#000" stroke-width="1.0"/>
<line x1="71.60" y1="426.20" x2="71.60" y2="434.30" stroke="#000" stroke-width="1.0"/>
<line x1="67.45" y1="426.20" x2="75.75" y2="426.20" stroke="#000" stroke-width="1.0"/>
<line x1="67.45" y1="434.30" x2="75.75" y2="434.30" stroke="#000" stroke-width="1.0"/>
<ellipse cx="64.30" cy="427.90" rx="1.70" ry="1.70" fill="none" stroke="#1F4A8A" stroke-width="1.05"/>
<ellipse cx="78.30" cy="429.10" rx="1.70" ry="1.70" fill="none" stroke="#1F4A8A" stroke-width="1.05"/>
<ellipse cx="71.50" cy="437.20" rx="1.70" ry="1.70" fill="none" stroke="#1F4A8A" stroke-width="1.05"/>
<ellipse cx="71.50" cy="427.10" rx="1.70" ry="1.70" fill="none" stroke="#1F4A8A" stroke-width="1.05"/>
<ellipse cx="71.50" cy="429.30" rx="1.70" ry="1.70" fill="none" stroke="#1F4A8A" stroke-width="1.05"/>
<line x1="97.70" y1="426.50" x2="97.70" y2="433.40" stroke="#000" stroke-width="1.0"/>
<line x1="93.55" y1="426.50" x2="101.85" y2="426.50" stroke="#000" stroke-width="1.0"/>
<line x1="93.55" y1="433.40" x2="101.85" y2="433.40" stroke="#000" stroke-width="1.0"/>
<path d="M93.20 425.00L95.00 426.80L93.20 428.60L91.40 426.80Z" fill="none" stroke="#55A838" stroke-width="1.05"/>
<path d="M101.30 424.10L103.10 425.90L101.30 427.70L99.50 425.90Z" fill="none" stroke="#55A838" stroke-width="1.05"/>
<path d="M93.20 429.70L95.00 431.50L93.20 433.30L91.40 431.50Z" fill="none" stroke="#55A838" stroke-width="1.05"/>
<path d="M101.30 429.70L103.10 431.50L101.30 433.30L99.50 431.50Z" fill="none" stroke="#55A838" stroke-width="1.05"/>
<path d="M93.40 432.20L95.20 434.00L93.40 435.80L91.60 434.00Z" fill="none" stroke="#55A838" stroke-width="1.05"/>
<line x1="123.30" y1="403.20" x2="123.30" y2="416.50" stroke="#000" stroke-width="1.0"/>
<line x1="119.55" y1="403.20" x2="127.05" y2="403.20" stroke="#000" stroke-width="1.0"/>
<line x1="119.55" y1="416.50" x2="127.05" y2="416.50" stroke="#000" stroke-width="1.0"/>
<ellipse cx="119.40" cy="401.70" rx="2.00" ry="2.00" fill="#1F4A8A"/>
<ellipse cx="127.20" cy="404.50" rx="2.00" ry="2.00" fill="#1F4A8A"/>
<ellipse cx="123.30" cy="410.80" rx="2.00" ry="2.00" fill="#1F4A8A"/>
<ellipse cx="123.30" cy="413.50" rx="2.00" ry="2.00" fill="#1F4A8A"/>
<ellipse cx="123.30" cy="418.20" rx="2.00" ry="2.00" fill="#1F4A8A"/>
<line x1="149.40" y1="419.10" x2="149.40" y2="425.40" stroke="#000" stroke-width="1.0"/>
<line x1="145.25" y1="419.10" x2="153.55" y2="419.10" stroke="#000" stroke-width="1.0"/>
<line x1="145.25" y1="425.40" x2="153.55" y2="425.40" stroke="#000" stroke-width="1.0"/>
<path d="M142.50 415.90L144.60 418.00L142.50 420.10L140.40 418.00Z" fill="#55A838"/>
<path d="M149.40 417.40L151.50 419.50L149.40 421.60L147.30 419.50Z" fill="#55A838"/>
<path d="M149.40 421.40L151.50 423.50L149.40 425.60L147.30 423.50Z" fill="#55A838"/>
<path d="M156.10 421.40L158.20 423.50L156.10 425.60L154.00 423.50Z" fill="#55A838"/>
<path d="M142.50 423.40L144.60 425.50L142.50 427.60L140.40 425.50Z" fill="#55A838"/>
<path d="M123.10 397.70V394.90H149.60V397.70" fill="none" stroke="#1a1a1a" stroke-width="1.1"/>
<circle cx="134.70" cy="390.90" r="0.98" fill="#111"/>
<circle cx="137.70" cy="390.90" r="0.98" fill="#111"/>
<text x="65.43" y="475.30" font-size="8.3">WT</text>
<text x="91.56" y="475.30" font-size="8.3">KO</text>
<text x="117.33" y="475.30" font-size="8.3">WT</text>
<text x="143.06" y="475.30" font-size="8.3">KO</text>
<line x1="63.80" y1="479.70" x2="105.80" y2="479.70" stroke="#333" stroke-width="1.0"/>
<text x="73.92" y="489.60" font-size="8.2" textLength="21.14" lengthAdjust="spacingAndGlyphs">Naive</text>
<line x1="115.50" y1="479.70" x2="157.70" y2="479.70" stroke="#333" stroke-width="1.0"/>
<text x="116.56" y="489.60" font-size="8.2" textLength="39.35" lengthAdjust="spacingAndGlyphs">Immunized</text>
<text x="182.77" y="360.70" font-size="11.63" textLength="8.43" lengthAdjust="spacingAndGlyphs" font-weight="bold" fill="#000">F</text>
<line x1="229.50" y1="369.00" x2="229.50" y2="461.40" stroke="#000" stroke-width="1.15"/>
<line x1="226.50" y1="372.00" x2="229.50" y2="372.00" stroke="#000" stroke-width="1.0"/>
<text x="207.98" y="374.91" font-size="8.5">40K</text>
<line x1="226.50" y1="394.20" x2="229.50" y2="394.20" stroke="#000" stroke-width="1.0"/>
<text x="207.98" y="397.11" font-size="8.5">30K</text>
<line x1="226.50" y1="416.40" x2="229.50" y2="416.40" stroke="#000" stroke-width="1.0"/>
<text x="207.98" y="419.31" font-size="8.5">20K</text>
<line x1="226.50" y1="438.60" x2="229.50" y2="438.60" stroke="#000" stroke-width="1.0"/>
<text x="207.98" y="441.51" font-size="8.5">10K</text>
<line x1="226.50" y1="460.80" x2="229.50" y2="460.80" stroke="#000" stroke-width="1.0"/>
<text x="218.61" y="463.71" font-size="8.5">0</text>
<text class="r" transform="translate(201.30,457.00) rotate(-90)" x="-0.64" y="0" font-size="9.5" textLength="79.93" lengthAdjust="spacingAndGlyphs">FcγRIII on PMCs (MFI)</text>
<rect x="238.90" y="413.80" width="16.20" height="47.00" fill="#DB8A15"/>
<rect x="264.90" y="421.30" width="16.20" height="39.50" fill="#DB8A15"/>
<rect x="291.20" y="403.30" width="16.20" height="57.50" fill="#A2002A"/>
<rect x="317.10" y="410.30" width="16.20" height="50.50" fill="#A2002A"/>
<line x1="228.95" y1="460.50" x2="341.70" y2="460.50" stroke="#000" stroke-width="1.15"/>
<line x1="247.00" y1="460.50" x2="247.00" y2="463.90" stroke="#000" stroke-width="1.0"/>
<line x1="273.00" y1="460.50" x2="273.00" y2="463.90" stroke="#000" stroke-width="1.0"/>
<line x1="299.30" y1="460.50" x2="299.30" y2="463.90" stroke="#000" stroke-width="1.0"/>
<line x1="325.20" y1="460.50" x2="325.20" y2="463.90" stroke="#000" stroke-width="1.0"/>
<line x1="247.00" y1="403.30" x2="247.00" y2="424.00" stroke="#000" stroke-width="1.0"/>
<line x1="243.25" y1="403.30" x2="250.75" y2="403.30" stroke="#000" stroke-width="1.0"/>
<line x1="243.25" y1="424.00" x2="250.75" y2="424.00" stroke="#000" stroke-width="1.0"/>
<ellipse cx="247.00" cy="400.10" rx="1.80" ry="1.80" fill="none" stroke="#1F4A8A" stroke-width="1.05"/>
<ellipse cx="242.90" cy="417.40" rx="1.80" ry="1.80" fill="none" stroke="#1F4A8A" stroke-width="1.05"/>
<ellipse cx="250.90" cy="420.80" rx="1.80" ry="1.80" fill="none" stroke="#1F4A8A" stroke-width="1.05"/>
<ellipse cx="242.90" cy="423.20" rx="1.80" ry="1.80" fill="none" stroke="#1F4A8A" stroke-width="1.05"/>
<ellipse cx="247.00" cy="404.80" rx="1.50" ry="1.50" fill="none" stroke="#1F4A8A" stroke-width="1.05"/>
<line x1="273.00" y1="417.40" x2="273.00" y2="424.10" stroke="#000" stroke-width="1.0"/>
<line x1="269.10" y1="417.40" x2="276.90" y2="417.40" stroke="#000" stroke-width="1.0"/>
<line x1="269.10" y1="424.10" x2="276.90" y2="424.10" stroke="#000" stroke-width="1.0"/>
<path d="M266.00 415.00L267.90 416.90L266.00 418.80L264.10 416.90Z" fill="none" stroke="#55A838" stroke-width="1.05"/>
<path d="M273.00 414.50L274.90 416.40L273.00 418.30L271.10 416.40Z" fill="none" stroke="#55A838" stroke-width="1.05"/>
<path d="M273.00 419.80L274.90 421.70L273.00 423.60L271.10 421.70Z" fill="none" stroke="#55A838" stroke-width="1.05"/>
<path d="M266.00 422.20L267.90 424.10L266.00 426.00L264.10 424.10Z" fill="none" stroke="#55A838" stroke-width="1.05"/>
<path d="M279.75 421.80L281.65 423.70L279.75 425.60L277.85 423.70Z" fill="none" stroke="#55A838" stroke-width="1.05"/>
<line x1="298.50" y1="394.20" x2="298.50" y2="412.20" stroke="#000" stroke-width="1.0"/>
<line x1="295.00" y1="394.20" x2="302.00" y2="394.20" stroke="#000" stroke-width="1.0"/>
<line x1="295.00" y1="412.20" x2="302.00" y2="412.20" stroke="#000" stroke-width="1.0"/>
<ellipse cx="295.10" cy="393.20" rx="2.20" ry="2.20" fill="#1F4A8A"/>
<ellipse cx="295.10" cy="397.70" rx="2.20" ry="2.20" fill="#1F4A8A"/>
<ellipse cx="302.80" cy="397.70" rx="2.20" ry="2.20" fill="#1F4A8A"/>
<ellipse cx="295.60" cy="412.20" rx="2.20" ry="2.20" fill="#1F4A8A"/>
<ellipse cx="302.80" cy="412.20" rx="2.20" ry="2.20" fill="#1F4A8A"/>
<line x1="325.20" y1="403.30" x2="325.20" y2="417.00" stroke="#000" stroke-width="1.0"/>
<line x1="321.45" y1="403.30" x2="328.95" y2="403.30" stroke="#000" stroke-width="1.0"/>
<line x1="321.45" y1="417.00" x2="328.95" y2="417.00" stroke="#000" stroke-width="1.0"/>
<path d="M325.20 398.90L327.50 401.20L325.20 403.50L322.90 401.20Z" fill="#55A838"/>
<path d="M329.40 404.10L331.70 406.40L329.40 408.70L327.10 406.40Z" fill="#55A838"/>
<path d="M321.40 407.30L323.70 409.60L321.40 411.90L319.10 409.60Z" fill="#55A838"/>
<path d="M325.20 411.50L327.50 413.80L325.20 416.10L322.90 413.80Z" fill="#55A838"/>
<path d="M325.20 416.80L327.50 419.10L325.20 421.40L322.90 419.10Z" fill="#55A838"/>
<text x="240.63" y="474.90" font-size="8.3">WT</text>
<text x="266.86" y="474.90" font-size="8.3">KO</text>
<text x="292.93" y="474.90" font-size="8.3">WT</text>
<text x="319.06" y="474.90" font-size="8.3">KO</text>
<line x1="238.80" y1="479.80" x2="279.80" y2="479.80" stroke="#333" stroke-width="1.0"/>
<text x="248.82" y="490.40" font-size="8.2" textLength="21.35" lengthAdjust="spacingAndGlyphs">Naive</text>
<line x1="291.30" y1="479.80" x2="332.80" y2="479.80" stroke="#333" stroke-width="1.0"/>
<text x="292.26" y="490.40" font-size="8.2" textLength="39.56" lengthAdjust="spacingAndGlyphs">Immunized</text>
<text x="358.17" y="360.80" font-size="11.77" textLength="10.14" lengthAdjust="spacingAndGlyphs" font-weight="bold" fill="#000">G</text>
<line x1="407.50" y1="369.20" x2="407.50" y2="461.40" stroke="#000" stroke-width="1.15"/>
<line x1="404.50" y1="372.20" x2="407.50" y2="372.20" stroke="#000" stroke-width="1.0"/>
<text x="382.13" y="375.11" font-size="8.5">2000</text>
<line x1="404.50" y1="394.35" x2="407.50" y2="394.35" stroke="#000" stroke-width="1.0"/>
<text x="382.13" y="397.26" font-size="8.5">1500</text>
<line x1="404.50" y1="416.50" x2="407.50" y2="416.50" stroke="#000" stroke-width="1.0"/>
<text x="382.13" y="419.41" font-size="8.5">1000</text>
<line x1="404.50" y1="438.65" x2="407.50" y2="438.65" stroke="#000" stroke-width="1.0"/>
<text x="386.85" y="441.56" font-size="8.5">500</text>
<line x1="404.50" y1="460.80" x2="407.50" y2="460.80" stroke="#000" stroke-width="1.0"/>
<text x="396.31" y="463.71" font-size="8.5">0</text>
<text class="r" transform="translate(375.30,449.00) rotate(-90)" x="-0.59" y="0" font-size="9.5" textLength="69.04" lengthAdjust="spacingAndGlyphs">FcεRI on PMCs (MFI)</text>
<rect x="415.70" y="430.60" width="14.80" height="30.20" fill="#8B86BA"/>
<rect x="438.40" y="429.20" width="14.80" height="31.60" fill="#8B86BA"/>
<rect x="461.40" y="389.00" width="14.80" height="71.80" fill="#6CA8DE"/>
<rect x="484.40" y="393.70" width="14.80" height="67.10" fill="#6CA8DE"/>
<line x1="406.95" y1="460.50" x2="507.60" y2="460.50" stroke="#000" stroke-width="1.15"/>
<line x1="423.10" y1="460.50" x2="423.10" y2="463.90" stroke="#000" stroke-width="1.0"/>
<line x1="445.80" y1="460.50" x2="445.80" y2="463.90" stroke="#000" stroke-width="1.0"/>
<line x1="468.80" y1="460.50" x2="468.80" y2="463.90" stroke="#000" stroke-width="1.0"/>
<line x1="491.80" y1="460.50" x2="491.80" y2="463.90" stroke="#000" stroke-width="1.0"/>
<line x1="423.00" y1="427.30" x2="423.00" y2="433.30" stroke="#000" stroke-width="1.0"/>
<line x1="418.50" y1="427.30" x2="427.50" y2="427.30" stroke="#000" stroke-width="1.0"/>
<line x1="418.50" y1="433.30" x2="427.50" y2="433.30" stroke="#000" stroke-width="1.0"/>
<ellipse cx="416.90" cy="427.30" rx="1.95" ry="1.95" fill="none" stroke="#1F4A8A" stroke-width="1.05"/>
<ellipse cx="428.90" cy="427.30" rx="1.95" ry="1.95" fill="none" stroke="#1F4A8A" stroke-width="1.05"/>
<ellipse cx="416.90" cy="433.30" rx="1.95" ry="1.95" fill="none" stroke="#1F4A8A" stroke-width="1.05"/>
<ellipse cx="428.90" cy="433.30" rx="1.95" ry="1.95" fill="none" stroke="#1F4A8A" stroke-width="1.05"/>
<line x1="445.90" y1="424.30" x2="445.90" y2="433.30" stroke="#000" stroke-width="1.0"/>
<line x1="442.40" y1="424.30" x2="449.40" y2="424.30" stroke="#000" stroke-width="1.0"/>
<line x1="442.40" y1="433.30" x2="449.40" y2="433.30" stroke="#000" stroke-width="1.0"/>
<path d="M442.50 421.20L444.50 423.20L442.50 425.20L440.50 423.20Z" fill="none" stroke="#55A838" stroke-width="1.05"/>
<path d="M442.50 425.30L444.50 427.30L442.50 429.30L440.50 427.30Z" fill="none" stroke="#55A838" stroke-width="1.05"/>
<path d="M449.40 424.30L451.40 426.30L449.40 428.30L447.40 426.30Z" fill="none" stroke="#55A838" stroke-width="1.05"/>
<path d="M442.50 431.80L444.50 433.80L442.50 435.80L440.50 433.80Z" fill="none" stroke="#55A838" stroke-width="1.05"/>
<path d="M449.40 431.80L451.40 433.80L449.40 435.80L447.40 433.80Z" fill="none" stroke="#55A838" stroke-width="1.05"/>
<line x1="468.90" y1="382.20" x2="468.90" y2="394.20" stroke="#000" stroke-width="1.0"/>
<line x1="465.10" y1="382.20" x2="472.70" y2="382.20" stroke="#000" stroke-width="1.0"/>
<line x1="465.10" y1="394.20" x2="472.70" y2="394.20" stroke="#000" stroke-width="1.0"/>
<ellipse cx="468.90" cy="378.90" rx="2.25" ry="2.25" fill="#1F4A8A"/>
<ellipse cx="468.90" cy="384.90" rx="2.25" ry="2.25" fill="#1F4A8A"/>
<ellipse cx="462.90" cy="392.10" rx="2.25" ry="2.25" fill="#1F4A8A"/>
<ellipse cx="468.90" cy="392.10" rx="2.25" ry="2.25" fill="#1F4A8A"/>
<ellipse cx="474.90" cy="392.10" rx="2.25" ry="2.25" fill="#1F4A8A"/>
<line x1="491.50" y1="390.50" x2="491.50" y2="396.20" stroke="#000" stroke-width="1.0"/>
<line x1="487.85" y1="390.50" x2="495.15" y2="390.50" stroke="#000" stroke-width="1.0"/>
<line x1="487.85" y1="396.20" x2="495.15" y2="396.20" stroke="#000" stroke-width="1.0"/>
<path d="M485.50 387.70L487.80 390.00L485.50 392.30L483.20 390.00Z" fill="#55A838"/>
<path d="M489.70 390.00L492.00 392.30L489.70 394.60L487.40 392.30Z" fill="#55A838"/>
<path d="M493.40 390.00L495.70 392.30L493.40 394.60L491.10 392.30Z" fill="#55A838"/>
<path d="M497.60 391.40L499.90 393.70L497.60 396.00L495.30 393.70Z" fill="#55A838"/>
<path d="M491.50 396.00L493.80 398.30L491.50 400.60L489.20 398.30Z" fill="#55A838"/>
<path d="M422.20 385.40V382.60H461.30V385.40" fill="none" stroke="#1a1a1a" stroke-width="1.1"/>
<circle cx="438.80" cy="378.50" r="0.98" fill="#111"/>
<circle cx="441.80" cy="378.50" r="0.98" fill="#111"/>
<circle cx="444.80" cy="378.50" r="0.98" fill="#111"/>
<path d="M447.70 373.30V370.50H491.70V373.30" fill="none" stroke="#1a1a1a" stroke-width="1.1"/>
<circle cx="466.40" cy="366.20" r="0.98" fill="#111"/>
<circle cx="469.40" cy="366.20" r="0.98" fill="#111"/>
<circle cx="472.40" cy="366.20" r="0.98" fill="#111"/>
<text x="416.03" y="474.70" font-size="8.3">WT</text>
<text x="439.56" y="474.70" font-size="8.3">KO</text>
<text x="462.13" y="474.70" font-size="8.3">WT</text>
<text x="485.61" y="474.70" font-size="8.3">KO</text>
<line x1="415.60" y1="480.00" x2="452.60" y2="480.00" stroke="#333" stroke-width="1.0"/>
<text x="424.94" y="489.90" font-size="8.2" textLength="18.59" lengthAdjust="spacingAndGlyphs">PBS</text>
<line x1="461.10" y1="480.00" x2="499.80" y2="480.00" stroke="#333" stroke-width="1.0"/>
<text x="460.43" y="489.90" font-size="8.2" textLength="39.02" lengthAdjust="spacingAndGlyphs">Mouse IgE</text>
<rect x="0.5" y="0.5" width="519" height="499" fill="none" stroke="#000" stroke-width="1"/>
</svg>
</body></html>
